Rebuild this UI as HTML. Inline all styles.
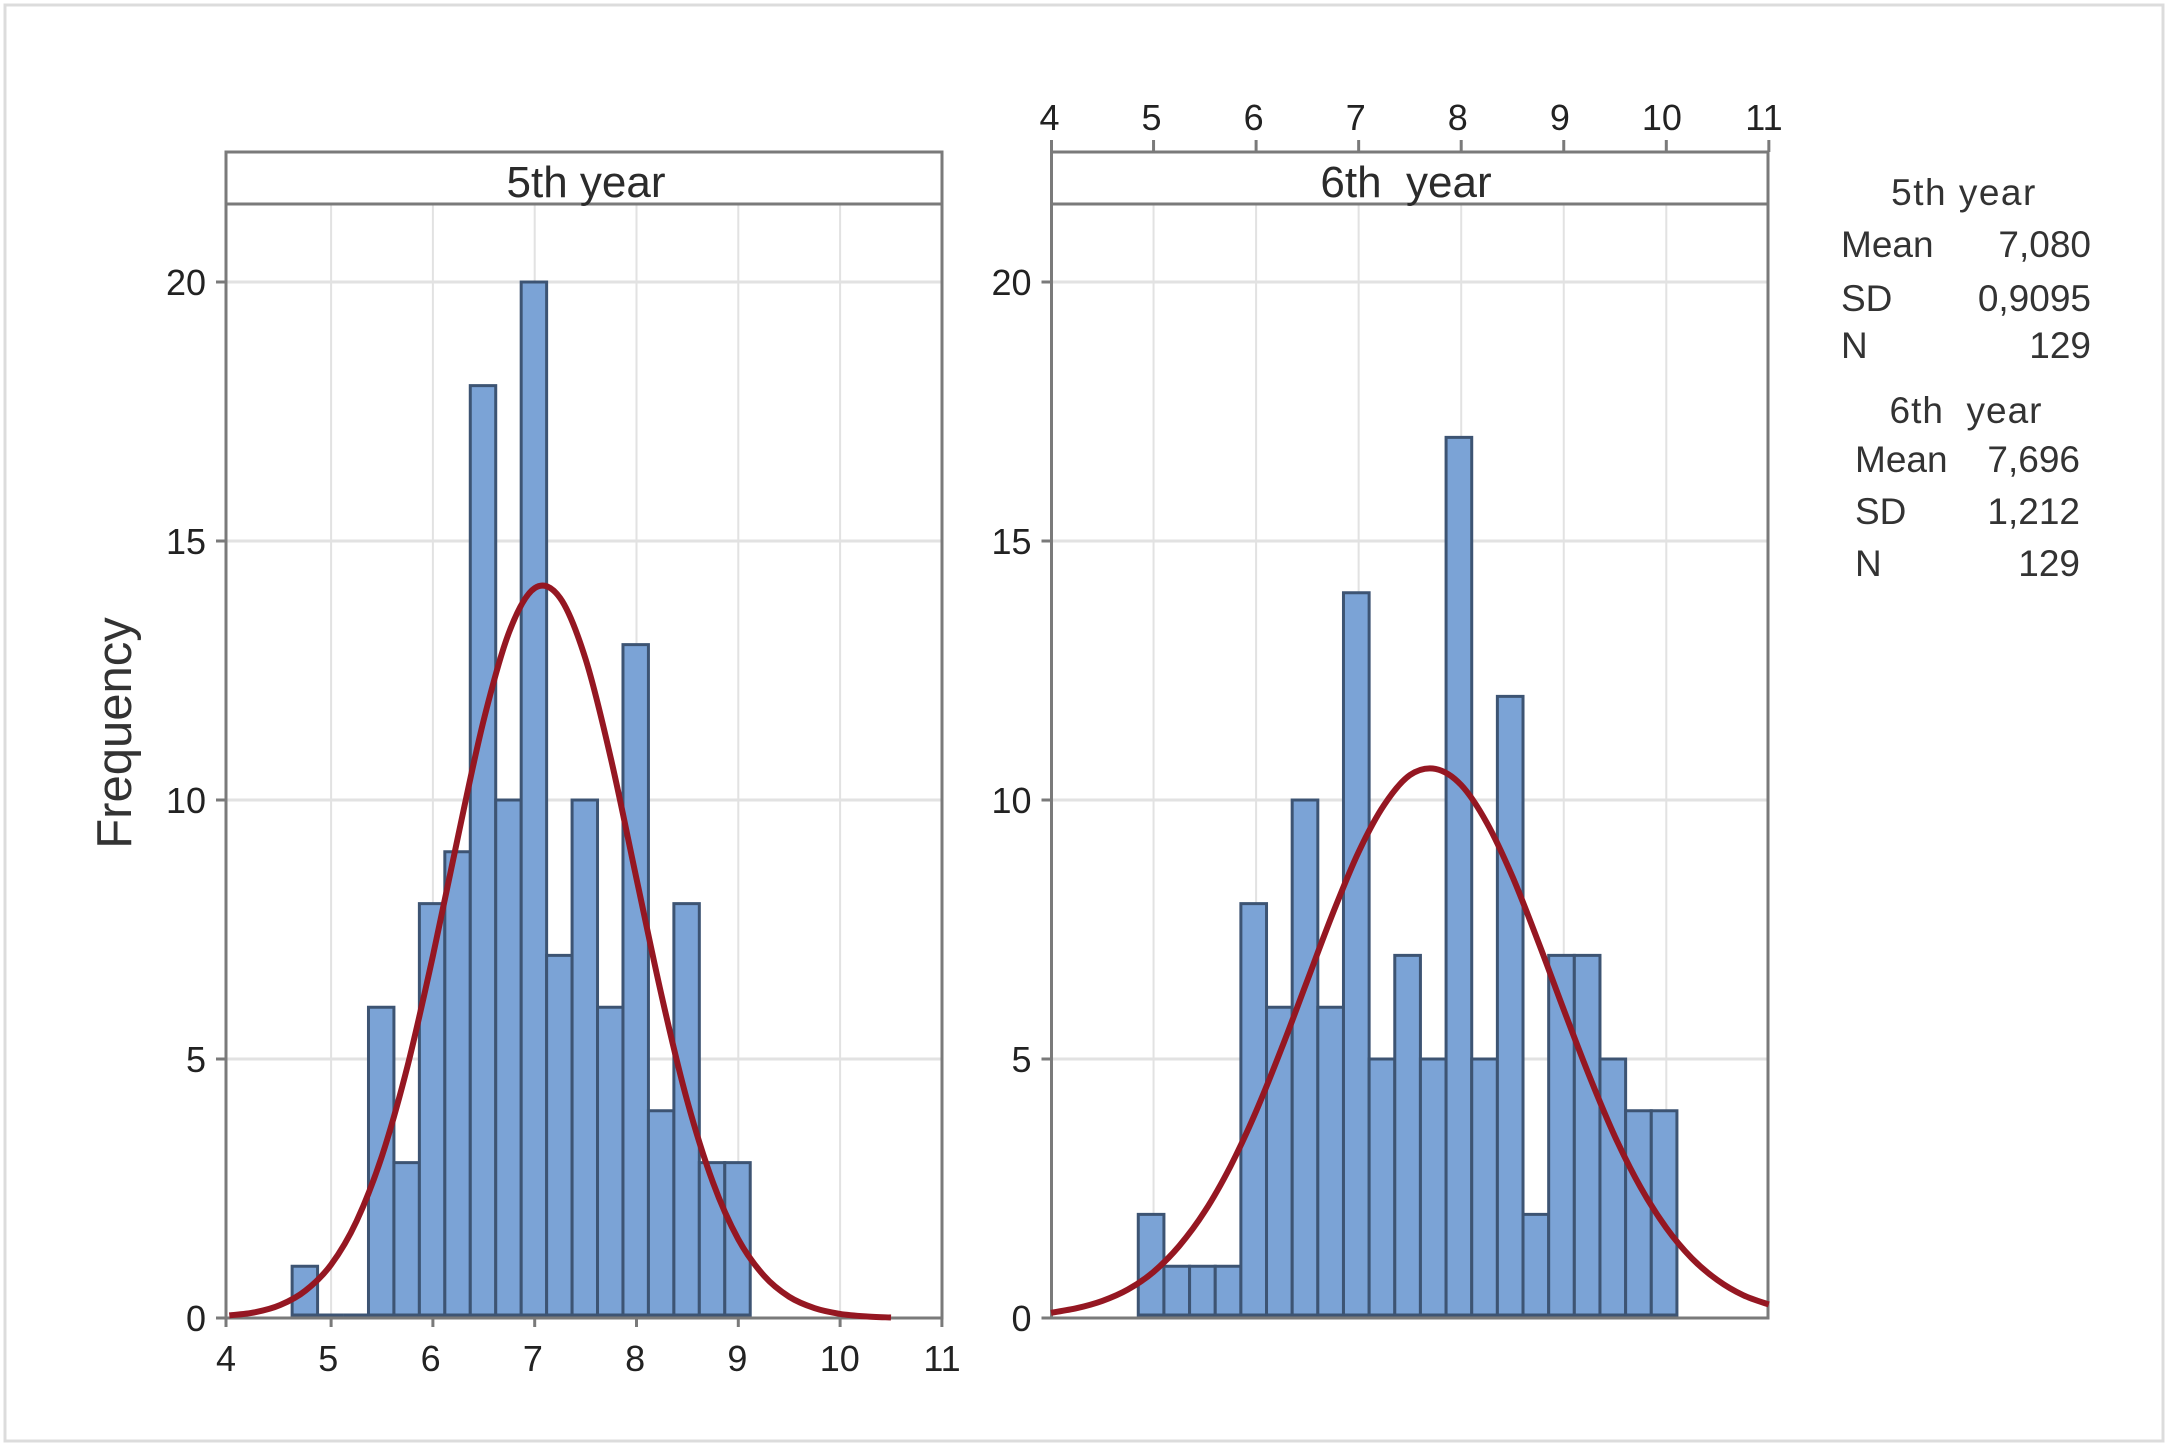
<!DOCTYPE html>
<html>
<head>
<meta charset="utf-8">
<title>Histograms of 5th and 6th year scores</title>
<style>
html,body{margin:0;padding:0;background:#fff;}
svg{display:block;}
text{font-family:"Liberation Sans",sans-serif;fill:#222;}
.tick{font-size:36px;}
.strip{font-size:44px;fill:#2b2b2b;white-space:pre;}
.stat{font-size:37px;fill:#333;white-space:pre;}
</style>
</head>
<body>
<svg id="chart" xmlns="http://www.w3.org/2000/svg" width="2167" height="1447" viewBox="0 0 2167 1447">
  <rect x="5" y="5" width="2158" height="1436" fill="#fff" stroke="#dcdcdc" stroke-width="3"/>
  <g id="panels"></g>
  <text transform="translate(131,733) rotate(-90)" text-anchor="middle" font-size="49" style="fill:#333">Frequency</text>
  <g>
    <text class="stat" x="1964" y="205" text-anchor="middle" letter-spacing="1.5">5th year</text>
    <text class="stat" x="1841" y="257">Mean</text>
    <text class="stat" x="2091" y="257" text-anchor="end">7,080</text>
    <text class="stat" x="1841" y="311">SD</text>
    <text class="stat" x="2091" y="311" text-anchor="end">0,9095</text>
    <text class="stat" x="1841" y="358">N</text>
    <text class="stat" x="2091" y="358" text-anchor="end">129</text>
  </g>
  <g>
    <text class="stat" x="1966" y="423" text-anchor="middle" letter-spacing="1">6th  year</text>
    <text class="stat" x="1855" y="472">Mean</text>
    <text class="stat" x="2080" y="472" text-anchor="end">7,696</text>
    <text class="stat" x="1855" y="524">SD</text>
    <text class="stat" x="2080" y="524" text-anchor="end">1,212</text>
    <text class="stat" x="1855" y="576">N</text>
    <text class="stat" x="2080" y="576" text-anchor="end">129</text>
  </g>
</svg>
<script>
// Data
var xTickLabels = [4, 5, 6, 7, 8, 9, 10, 11];
var yTickLabels = [0, 5, 10, 15, 20];

var binCenters5th = [4.75, 5, 5.25, 5.5, 5.75, 6, 6.25, 6.5, 6.75, 7, 7.25, 7.5, 7.75, 8, 8.25, 8.5, 8.75, 9];
var counts5th = [1, 0, 0, 6, 3, 8, 9, 18, 10, 20, 7, 10, 6, 13, 4, 8, 3, 3];
var curveX5th = [4, 4.25, 4.5, 4.75, 5, 5.25, 5.5, 5.75, 6, 6.25, 6.5, 6.75, 7, 7.25, 7.5, 7.75, 8, 8.25, 8.5, 8.75, 9, 9.25, 9.5, 9.75, 10, 10.25, 10.5];
var curveY5th = [0.05, 0.11, 0.25, 0.53, 1.03, 1.87, 3.13, 4.86, 6.99, 9.33, 11.55, 13.25, 14.09, 13.9, 12.72, 10.79, 8.48, 6.19, 4.18, 2.62, 1.52, 0.82, 0.41, 0.19, 0.08, 0.03, 0.01];

var binCenters6th = [5, 5.25, 5.5, 5.75, 6, 6.25, 6.5, 6.75, 7, 7.25, 7.5, 7.75, 8, 8.25, 8.5, 8.75, 9, 9.25, 9.5, 9.75, 10];
var counts6th = [2, 1, 1, 1, 8, 6, 10, 6, 14, 5, 7, 5, 17, 5, 12, 2, 7, 7, 5, 4, 4];
var curveX6th = [4, 4.25, 4.5, 4.75, 5, 5.25, 5.5, 5.75, 6, 6.25, 6.5, 6.75, 7, 7.25, 7.5, 7.75, 8, 8.25, 8.5, 8.75, 9, 9.25, 9.5, 9.75, 10, 10.25, 10.5, 10.75, 11];
var curveY6th = [0.1, 0.19, 0.33, 0.55, 0.89, 1.39, 2.06, 2.93, 3.99, 5.21, 6.52, 7.82, 9.0, 9.91, 10.48, 10.6, 10.29, 9.56, 8.52, 7.27, 5.95, 4.67, 3.5, 2.52, 1.74, 1.15, 0.73, 0.44, 0.26];

var binWidth = 0.25;

var SVGNS = 'http://www.w3.org/2000/svg';
var root = document.getElementById('panels');

function add(parent, tag, attrs, txt) {
  var el = document.createElementNS(SVGNS, tag);
  for (var k in attrs) el.setAttribute(k, attrs[k]);
  if (txt !== undefined) el.textContent = txt;
  parent.appendChild(el);
  return el;
}

function yScale(v) { return 1318 - 51.8 * v; }

function smoothPath(xs, ys, sx) {
  var p = xs.map(function (x, i) { return [sx(x), yScale(ys[i])]; });
  var d = 'M' + p[0][0].toFixed(1) + ' ' + p[0][1].toFixed(1);
  for (var i = 0; i < p.length - 1; i++) {
    var p0 = p[Math.max(i - 1, 0)], p1 = p[i], p2 = p[i + 1], p3 = p[Math.min(i + 2, p.length - 1)];
    var c1x = p1[0] + (p2[0] - p0[0]) / 6, c1y = p1[1] + (p2[1] - p0[1]) / 6;
    var c2x = p2[0] - (p3[0] - p1[0]) / 6, c2y = p2[1] - (p3[1] - p1[1]) / 6;
    d += 'C' + c1x.toFixed(1) + ' ' + c1y.toFixed(1) + ' ' + c2x.toFixed(1) + ' ' + c2y.toFixed(1) + ' ' + p2[0].toFixed(1) + ' ' + p2[1].toFixed(1);
  }
  return d;
}

function drawPanel(opt) {
  var sx = opt.sx;
  var FRAME = '#7a7a7a';
  var g = add(root, 'g', {});
  
  

  // vertical gridlines
  xTickLabels.forEach(function (t) {
    if (t === 4 || t === 11) return;
    var gl = add(g, 'line', { x1: sx(t), x2: sx(t), y1: 204, y2: 1318, stroke: '#e2e2e2', 'stroke-width': 2 });
    
    
  });
  // horizontal gridlines
  yTickLabels.forEach(function (t) {
    if (t === 0) return;
    var gl = add(g, 'line', { x1: opt.left, x2: opt.right, y1: yScale(t), y2: yScale(t), stroke: '#e2e2e2', 'stroke-width': 3 });
    
    
  });

  // bars
  opt.centers.forEach(function (c, i) {
    var x0 = opt.barX(c - binWidth / 2), x1 = opt.barX(c + binWidth / 2);
    var base = yScale(0) - 3;
    var top = Math.min(yScale(opt.counts[i]), base);
    var bar = add(g, 'path', {
      d: 'M' + x0 + ' ' + base + 'V' + top + 'H' + x1 + 'V' + base + 'Z',
      fill: '#7ba3d6', stroke: '#3d5473', 'stroke-width': 3
    });
    
    
  });

  // frame
  var frame = add(g, 'path', {
    d: 'M' + opt.left + ' 1318V152H' + opt.right + 'V1318H' + opt.left + 'M' + opt.left + ' 204H' + opt.right,
    fill: 'none', stroke: FRAME, 'stroke-width': 3
  });
  
  

  // fitted curve
  var curve = add(g, 'path', {
    d: smoothPath(opt.curveX, opt.curveY, sx),
    fill: 'none', stroke: '#951722', 'stroke-width': 6, 'stroke-linejoin': 'round'
  });
  
  

  // strip label
  var st = add(g, 'text', { 'class': 'strip', x: opt.stripX, y: 197, 'text-anchor': 'middle' }, opt.title);
  
  

  // y ticks
  yTickLabels.forEach(function (t) {
    var tm = add(g, 'line', { x1: opt.left - 10, x2: opt.left, y1: yScale(t), y2: yScale(t), stroke: FRAME, 'stroke-width': 3 });
    
    
    var tl = add(g, 'text', { 'class': 'tick', x: opt.left - 20, y: yScale(t) + 13, 'text-anchor': 'end' }, t);
    
    
  });

  // x ticks
  xTickLabels.forEach(function (t) {
    var tickTop = opt.xAxisOnTop ? 140 : 1318;
    var tickBottom = opt.xAxisOnTop ? 152 : 1327;
    var tickX = t === xTickLabels[0] ? opt.left : sx(t);
    var tm = add(g, 'line', { x1: tickX, x2: tickX, y1: tickTop, y2: tickBottom, stroke: FRAME, 'stroke-width': 3 });
    
    
    var tl = add(g, 'text', { 'class': 'tick', x: opt.labelX(t), y: opt.xAxisOnTop ? 130 : 1371, 'text-anchor': 'middle' }, t);
    
    
  });
}

drawPanel({
  id: '5th-year', title: '5th year', left: 226, right: 942, stripX: 586, xAxisOnTop: false,
  sx: function (v) { return 229.3 + 101.8 * (v - 4); },
  barX: function (v) { return 228.5 + 101.8 * (v - 4); },
  labelX: function (v) { return 226 + 102.29 * (v - 4); },
  centers: binCenters5th, counts: counts5th, curveX: curveX5th, curveY: curveY5th
});
drawPanel({
  id: '6th-year', title: '6th  year', left: 1051.5, right: 1768, stripX: 1406, xAxisOnTop: true,
  sx: function (v) { return 1051 + 102.55 * (v - 4); },
  barX: function (v) { return 1048.5 + 102.6 * (v - 4); },
  labelX: function (v) { return 1049.5 + 102.07 * (v - 4); },
  centers: binCenters6th, counts: counts6th, curveX: curveX6th, curveY: curveY6th
});
</script>
</body>
</html>
